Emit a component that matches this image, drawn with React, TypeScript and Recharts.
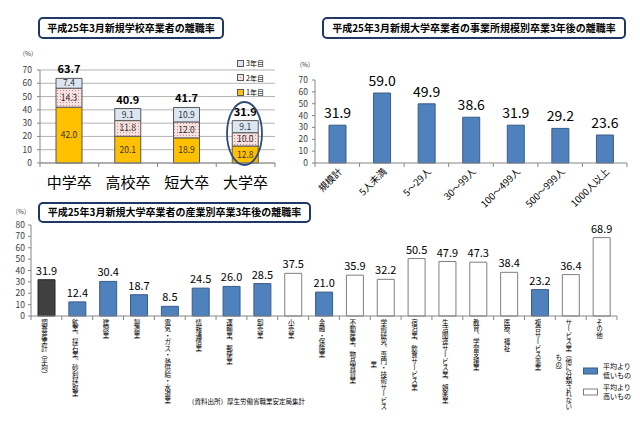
import React from "react";
import { BarChart, Bar, XAxis, YAxis, CartesianGrid, LabelList, Cell, Legend } from "recharts";

const FONT = '"Noto Sans CJK JP", "Noto Sans", sans-serif';
const AXIS = "#868686";

// 学歴別（1年目・2年目・3年目）
const gakureki = ["中学卒", "高校卒", "短大卒", "大学卒"];
const nen1 = [42.0, 20.1, 18.9, 12.8];
const nen2 = [14.3, 11.8, 12.0, 10.0];
const nen3 = [7.4, 9.1, 10.9, 9.1];
const goukei = [63.7, 40.9, 41.7, 31.9];
const nenMei = ["1年目", "2年目", "3年目"];

// 事業所規模別
const kibo = ["規模計", "5人未満", "5～29人", "30～99人", "100～499人", "500～999人", "1000人以上"];
const kiboRitsu = [31.9, 59.0, 49.9, 38.6, 31.9, 29.2, 23.6];

// 産業別（| は改行）
const sangyo = [
  "調査産業計（平均）",
  "鉱業、採石業、砂利採取業",
  "建設業",
  "製造業",
  "電気・ガス・熱供給・水道業",
  "情報通信業",
  "運輸業、郵便業",
  "卸売業",
  "小売業",
  "金融・保険業",
  "不動産業、物品賃貸業",
  "学術研究、専門・技術サービス|業",
  "宿泊業、飲食サービス業",
  "生活関連サービス業、娯楽業",
  "教育、学習支援業",
  "医療、福祉",
  "複合サービス事業",
  "サービス業（他に分類されない|もの）",
  "その他",
];
const sangyoRitsu = [31.9, 12.4, 30.4, 18.7, 8.5, 24.5, 26.0, 28.5, 37.5, 21.0, 35.9, 32.2, 50.5, 47.9, 47.3, 38.4, 23.2, 36.4, 68.9];
const hanrei3 = ["平均より|低いもの", "平均より|高いもの"];

const ticks70 = [0, 10, 20, 30, 40, 50, 60, 70];
const ticks80 = [0, 10, 20, 30, 40, 50, 60, 70, 80];

const data1 = gakureki.map((g, i) => ({ name: g, y1: nen1[i], y2: nen2[i], y3: nen3[i], total: goukei[i] }));
const data2 = kibo.map((k, i) => ({ name: k, v: kiboRitsu[i] }));
const data3 = sangyo.map((s, i) => ({ name: s, v: sangyoRitsu[i] }));

const fmt = (v: any) => Number(v).toFixed(1);

function halfBand(props: any) {
  const off = props.payload?.offset;
  if (off) return off;
  return props.width / props.visibleTicksCount / 2;
}

function Kugiri({ props }: { props: any }) {
  const { x, y, index, visibleTicksCount } = props;
  const h = halfBand(props);
  return (
    <>
      <line x1={x - h} y1={y} x2={x - h} y2={y + 4} stroke={AXIS} />
      {index === visibleTicksCount - 1 && <line x1={x + h} y1={y} x2={x + h} y2={y + 4} stroke={AXIS} />}
    </>
  );
}

function BigTick(props: any) {
  const { x, y, payload } = props;
  return (
    <g>
      <Kugiri props={props} />
      <text x={x} y={y + 25} textAnchor="middle" fontSize={15} fill="#000" fontFamily={FONT}>
        {payload.value}
      </text>
    </g>
  );
}

function NanameTick(props: any) {
  const { x, y, payload } = props;
  return (
    <g>
      <Kugiri props={props} />
      <text
        transform={`translate(${x + 3},${y + 7}) rotate(-45)`}
        textAnchor="end"
        dy="0.35em"
        fontSize={9.5}
        fill="#000"
        fontFamily={FONT}
      >
        {payload.value}
      </text>
    </g>
  );
}

// 縦書きラベル（2行目以降は1行目の中央に揃える）
function TateTick(props: any) {
  const { x, y, payload } = props;
  const lines = String(payload.value).split("|");
  const L = Math.max(...lines.map((l) => l.length));
  const pitch = 6.5;
  return (
    <g>
      <Kugiri props={props} />
      {lines.map((ln, i) => (
        <text
          key={i}
          x={x - 2 - i * 10}
          y={y + 3 + (L * pitch) / 2}
          textAnchor="middle"
          style={{ writingMode: "vertical-rl" }}
          fontSize={pitch}
          fill="#000"
          fontFamily={FONT}
        >
          {ln}
        </text>
      ))}
    </g>
  );
}

function Hanrei1({ payload }: any) {
  const items = [...(payload || [])].reverse();
  return (
    <div style={{ fontFamily: FONT, fontSize: 7, color: "#000" }}>
      {items.map((e: any) => (
        <div key={e.value} style={{ display: "flex", alignItems: "center", height: 14.5 }}>
          <svg width={7} height={7} style={{ marginRight: 2 }}>
            <rect x={0.5} y={0.5} width={6} height={6} fill={e.color} stroke="#595959" />
          </svg>
          {e.value}
        </div>
      ))}
    </div>
  );
}

function Hanrei3() {
  const iro = [
    { fill: "#4F81BD", stroke: "#385D8A" },
    { fill: "#ffffff", stroke: "#7f7f7f" },
  ];
  return (
    <div style={{ fontFamily: FONT, fontSize: 7, color: "#000", lineHeight: "9px" }}>
      {hanrei3.map((t, i) => (
        <div key={t} style={{ display: "flex", alignItems: "center", marginBottom: 3 }}>
          <svg width={16} height={8} style={{ marginRight: 4 }}>
            <rect x={0.5} y={1} width={14} height={6} fill={iro[i].fill} stroke={iro[i].stroke} />
          </svg>
          <div>
            {t.split("|").map((l) => (
              <div key={l}>{l}</div>
            ))}
          </div>
        </div>
      ))}
    </div>
  );
}

const yTick = { fontSize: 8.5, fill: "#404040", fontFamily: FONT };

function Chart1() {
  return (
    <BarChart width={640} height={426} data={data1} margin={{ top: 70, right: 365, bottom: 233, left: 20 }} barSize={26}>
      <defs>
        <pattern id="dots2" width="3" height="3" patternUnits="userSpaceOnUse">
          <rect width="3" height="3" fill="#f6e2e1" />
          <rect width="1" height="1" fill="#d08a8f" />
        </pattern>
      </defs>
      <CartesianGrid vertical={false} stroke="#b3b3b3" />
      <XAxis dataKey="name" interval={0} height={30} tickSize={0} tickMargin={0} tickLine={false} axisLine={{ stroke: AXIS }} tick={<BigTick />} />
      <YAxis domain={[0, 70]} ticks={ticks70} interval={0} width={20} tickSize={3} tickMargin={5} axisLine={{ stroke: AXIS }} tickLine={{ stroke: AXIS }} tick={yTick} />
      <Bar dataKey="y1" name={nenMei[0]} stackId="a" fill="#FFC000" stroke="#595959" isAnimationActive={false}>
        <LabelList dataKey="y1" position="center" formatter={fmt} style={{ fontSize: 8.5, fill: "#333", fontFamily: FONT }} />
      </Bar>
      <Bar dataKey="y2" name={nenMei[1]} stackId="a" fill="url(#dots2)" stroke="#595959" isAnimationActive={false}>
        <LabelList dataKey="y2" position="center" formatter={fmt} style={{ fontSize: 8.5, fill: "#333", fontFamily: FONT }} />
      </Bar>
      <Bar dataKey="y3" name={nenMei[2]} stackId="a" fill="#DCE6F2" stroke="#595959" isAnimationActive={false}>
        <LabelList dataKey="y3" position="center" formatter={fmt} style={{ fontSize: 8.5, fill: "#333", fontFamily: FONT }} />
        <LabelList dataKey="total" position="top" offset={5} formatter={fmt} style={{ fontSize: 11, fontWeight: 700, fill: "#000", fontFamily: FONT }} />
      </Bar>
      <Legend layout="horizontal" verticalAlign="middle" align="center" wrapperStyle={{ left: 237, top: 56, width: 40 }} content={<Hanrei1 />} />
    </BarChart>
  );
}

function Chart2() {
  return (
    <BarChart width={640} height={426} data={data2} margin={{ top: 80, right: 13, bottom: 213, left: 295 }} barSize={17}>
      <XAxis dataKey="name" interval={0} height={50} tickSize={0} tickMargin={0} tickLine={false} axisLine={{ stroke: AXIS }} tick={<NanameTick />} />
      <YAxis domain={[0, 70]} ticks={ticks70} interval={0} width={20} tickSize={3} tickMargin={4} axisLine={{ stroke: AXIS }} tickLine={{ stroke: AXIS }} tick={yTick} />
      <Bar dataKey="v" fill="#4F81BD" stroke="#385D8A" isAnimationActive={false}>
        <LabelList dataKey="v" position="top" offset={7} formatter={fmt} style={{ fontSize: 14, fill: "#000", fontFamily: FONT }} />
      </Bar>
    </BarChart>
  );
}

function Chart3() {
  const heikin = sangyoRitsu[0];
  return (
    <BarChart width={640} height={426} data={data3} margin={{ top: 225, right: 23, bottom: 10, left: 11 }} barSize={17}>
      <XAxis dataKey="name" interval={0} height={100} tickSize={0} tickMargin={0} tickLine={false} axisLine={{ stroke: AXIS }} tick={<TateTick />} />
      <YAxis domain={[0, 80]} ticks={ticks80} interval={0} width={20} tickSize={3} tickMargin={3} axisLine={{ stroke: AXIS }} tickLine={{ stroke: AXIS }} tick={yTick} />
      <Bar dataKey="v" isAnimationActive={false}>
        {data3.map((d, i) => {
          const c = i === 0 ? { f: "#404040", s: "#262626" } : d.v < heikin ? { f: "#4F81BD", s: "#385D8A" } : { f: "#ffffff", s: "#7f7f7f" };
          return <Cell key={d.name} fill={c.f} stroke={c.s} />;
        })}
        <LabelList dataKey="v" position="top" offset={5} formatter={fmt} style={{ fontSize: 11, fill: "#000", fontFamily: FONT }} />
      </Bar>
      <Legend layout="horizontal" verticalAlign="middle" align="center" wrapperStyle={{ left: 583, top: 362, width: 60 }} content={<Hanrei3 />} />
    </BarChart>
  );
}

function TitleBox({ x, y, w, h, text }: { x: number; y: number; w: number; h: number; text: string }) {
  return (
    <g>
      <rect x={x} y={y} width={w} height={h} rx={4} fill="#fff" stroke="#1F3864" strokeWidth={2} />
      <text x={x + w / 2} y={y + h / 2} dy="0.36em" textAnchor="middle" fontSize={10} fontWeight={700} fill="#000" fontFamily={FONT}>
        {text}
      </text>
    </g>
  );
}

export default function App() {
  const layer: React.CSSProperties = { position: "absolute", left: 0, top: 0 };
  return (
    <div style={{ position: "absolute", left: 0, top: 0, width: 640, height: 426, background: "#fff", overflow: "hidden", fontFamily: FONT }}>
      <div style={layer}>
        <Chart1 />
      </div>
      <div style={layer}>
        <Chart2 />
      </div>
      <div style={layer}>
        <Chart3 />
      </div>
      <svg width={640} height={426} style={{ ...layer, pointerEvents: "none" }}>
        <TitleBox x={39} y={18} w={184} h={20} text="平成25年3月新規学校卒業者の離職率" />
        <TitleBox x={323} y={18} w={302} h={20} text="平成25年3月新規大学卒業者の事業所規模別卒業3年後の離職率" />
        <TitleBox x={39} y={203} w={271} h={19} text="平成25年3月新規大学卒業者の産業別卒業3年後の離職率" />
        <ellipse cx={244.5} cy={133.5} rx={17.5} ry={31.5} fill="none" stroke="#2F4B7C" strokeWidth={1.8} />
        <text x={28} y={56} textAnchor="middle" fontSize={6.5} fill="#404040" fontFamily={FONT}>(%)</text>
        <text x={305} y={67} textAnchor="middle" fontSize={6.5} fill="#404040" fontFamily={FONT}>(%)</text>
        <text x={21} y={214} textAnchor="middle" fontSize={6.5} fill="#404040" fontFamily={FONT}>(%)</text>
        <text x={188} y={404} fontSize={6.5} fill="#000" fontFamily={FONT}>（資料出所）厚生労働省職業安定局集計</text>
      </svg>
    </div>
  );
}
